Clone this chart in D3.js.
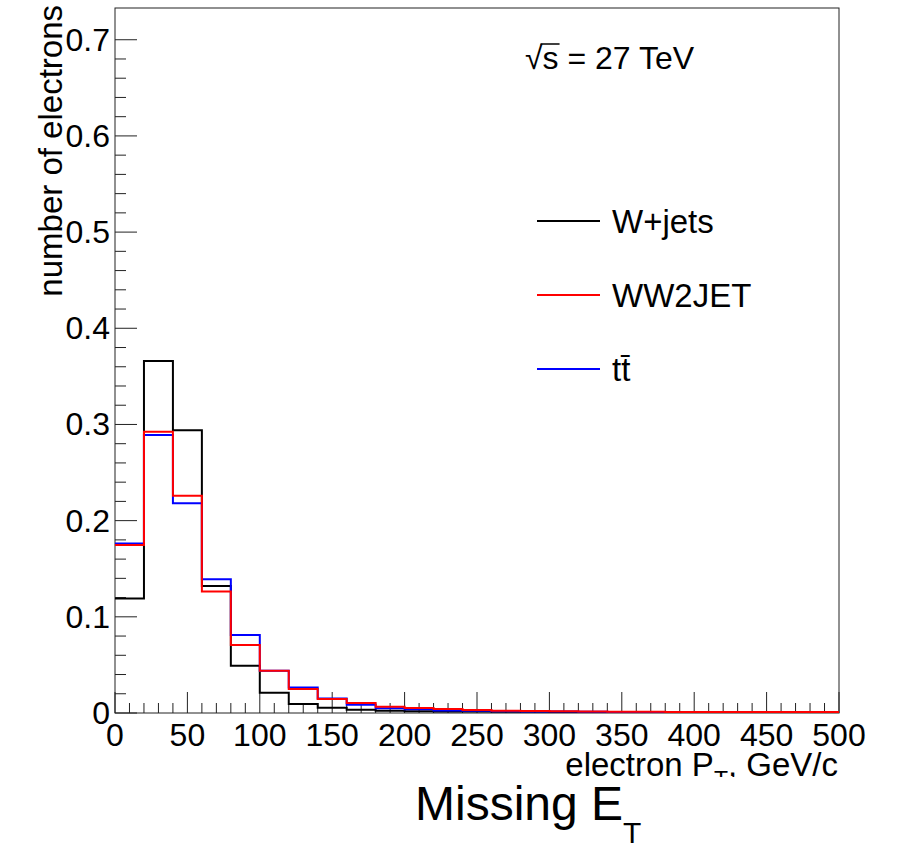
<!DOCTYPE html>
<html>
<head>
<meta charset="utf-8">
<script src="https://cdn.jsdelivr.net/npm/d3@7"></script>
<style>
  body { margin: 0; background: white; }
  text { font-family: "Liberation Sans", Arial, sans-serif; }
</style>
</head>
<body>
<div id="chart"></div>
<script>
// bin edges 0..500, width 20
var binEdges = d3.range(0, 501, 20);

var wjets = [0.118, 0.365, 0.293, 0.131, 0.048, 0.020, 0.0083, 0.0045, 0.0024, 0.0012,
             0.0008, 0.0006, 0.0004, 0.0003, 0.0002, 0.0001, 0.0001, 0, 0, 0,
             0, 0, 0, 0, 0];
var ttbar = [0.1753, 0.288, 0.217, 0.138, 0.080, 0.043, 0.0255, 0.014, 0.0076, 0.004,
             0.0028, 0.0015, 0.0013, 0.0008, 0.0006, 0.0004, 0.0002, 0.0001, 0, 0,
             0, 0, 0, 0, 0];
var ww2jet = [0.1736, 0.2914, 0.2249, 0.1254, 0.0696, 0.0430, 0.0239, 0.0135, 0.0094, 0.0055,
              0.0042, 0.003, 0.002, 0.0012, 0.001, 0.0008, 0.0005, 0.0003, 0.0002, 0.0001,
              0.0001, 0, 0, 0, 0];

var xTicks = [0, 50, 100, 150, 200, 250, 300, 350, 400, 450, 500];
var yTicks = [0, 0.1, 0.2, 0.3, 0.4, 0.5, 0.6, 0.7];

var series = [
  {name: "W+jets", values: wjets, color: "black"},
  {name: "t\u0074\u0304", values: ttbar, color: "#0000ff"},
  {name: "WW2JET", values: ww2jet, color: "#ff0000"}
];
var legendOrder = ["W+jets", "WW2JET", "t\u0074\u0304"];

var svg = d3.select("#chart")
            .append("svg")
            .attr("width", 897)
            .attr("height", 845);

var x = d3.scaleLinear().domain([0, 500]).range([115, 839]);
var y = d3.scaleLinear().domain([0, 0.733]).range([713, 8]);

// frame
svg.append("rect")
   .attr("x", 115)
   .attr("y", 8)
   .attr("width", 724)
   .attr("height", 705)
   .attr("fill", "white")
   .attr("stroke", "#222")
   .attr("stroke-width", 1);

// x ticks (pointing up)
var xMinor = d3.range(0, 501, 10);
svg.append("g").selectAll("line")
   .data(xMinor)
   .enter().append("line")
   .attr("x1", function(d){ return x(d); })
   .attr("x2", function(d){ return x(d); })
   .attr("y1", 713)
   .attr("y2", function(d){ return d % 50 == 0 ? 692 : 703; })
   .attr("stroke", "#222");

svg.append("g").selectAll("text")
   .data(xTicks)
   .enter().append("text")
   .attr("x", function(d){ return x(d); })
   .attr("y", 746)
   .attr("text-anchor", "middle")
   .attr("font-size", 32)
   .text(function(d){ return d; });

// y ticks (pointing right)
var yMinor = d3.range(0, 36).map(function(i){ return i * 0.02; });
svg.append("g").selectAll("line")
   .data(yMinor)
   .enter().append("line")
   .attr("x1", 115)
   .attr("x2", function(d, i){ return i % 5 == 0 ? 137 : 126; })
   .attr("y1", function(d){ return y(d); })
   .attr("y2", function(d){ return y(d); })
   .attr("stroke", "#222");

svg.append("g").selectAll("text")
   .data(yTicks)
   .enter().append("text")
   .attr("x", 110)
   .attr("y", function(d){ return y(d) + 11; })
   .attr("text-anchor", "end")
   .attr("font-size", 32)
   .text(function(d){ return d == 0 ? "0" : d.toFixed(1); });

// histograms
svg.append("clipPath").attr("id", "frameclip")
   .append("rect").attr("x", 115).attr("y", 8).attr("width", 724).attr("height", 705);

function stepPoints(vals){
  var pts = [];
  vals.forEach(function(v, i){
    pts.push([binEdges[i], v]);
    pts.push([binEdges[i + 1], v]);
  });
  return pts;
}

var line = d3.line()
             .x(function(d){ return x(d[0]); })
             .y(function(d){ return y(d[1]) - 1; });

svg.append("g")
   .attr("clip-path", "url(#frameclip)")
   .selectAll("path")
   .data(series)
   .enter().append("path")
   .attr("d", function(d){ return line(stepPoints(d.values)); })
   .attr("fill", "none")
   .attr("stroke", function(d){ return d.color; })
   .attr("stroke-width", 2);

// legend
var legend = svg.append("g").selectAll("g")
   .data(legendOrder.map(function(n){ return series.find(function(s){ return s.name == n; }); }))
   .enter().append("g");

legend.append("line")
   .attr("x1", 537)
   .attr("x2", 600)
   .attr("y1", function(d, i){ return 221 + i * 74; })
   .attr("y2", function(d, i){ return 221 + i * 74; })
   .attr("stroke", function(d){ return d.color; })
   .attr("stroke-width", 2);

legend.append("text")
   .attr("x", 612)
   .attr("y", function(d, i){ return 221 + i * 74 + 12; })
   .attr("font-size", 33)
   .text(function(d){ return d.name; });

// sqrt(s) label, overbar drawn by hand
var sq = svg.append("text")
   .attr("x", 525)
   .attr("y", 69)
   .attr("font-size", 32)
   .text("\u221As = 27 TeV");
var rootW = sq.node().getSubStringLength(0, 1);
var sW = sq.node().getSubStringLength(1, 1);
svg.append("line")
   .attr("x1", 525 + rootW - 2)
   .attr("x2", 525 + rootW + sW + 1)
   .attr("y1", 44)
   .attr("y2", 44)
   .attr("stroke", "black")
   .attr("stroke-width", 1.5);

// y axis title
svg.append("text")
   .attr("transform", "translate(62,5) rotate(-90)")
   .attr("text-anchor", "end")
   .attr("font-size", 33)
   .text("number of electrons");

// x axis title, clipped at bottom like the pad
svg.append("clipPath").attr("id", "titleclip")
   .append("rect").attr("x", 0).attr("y", 0).attr("width", 897).attr("height", 777);

var xt = svg.append("text")
   .attr("clip-path", "url(#titleclip)")
   .attr("x", 838)
   .attr("y", 776)
   .attr("text-anchor", "end")
   .attr("font-size", 33);
xt.append("tspan").text("electron P");
xt.append("tspan").text("T").attr("font-size", 23).attr("dy", 12);
xt.append("tspan").text(", GeV/c").attr("dy", -12);

// big title
var mt = svg.append("text")
   .attr("x", 415)
   .attr("y", 820)
   .attr("font-size", 48);
mt.append("tspan").text("Missing E");
mt.append("tspan").text("T").attr("font-size", 30).attr("dy", 23);
</script>
</body>
</html>
